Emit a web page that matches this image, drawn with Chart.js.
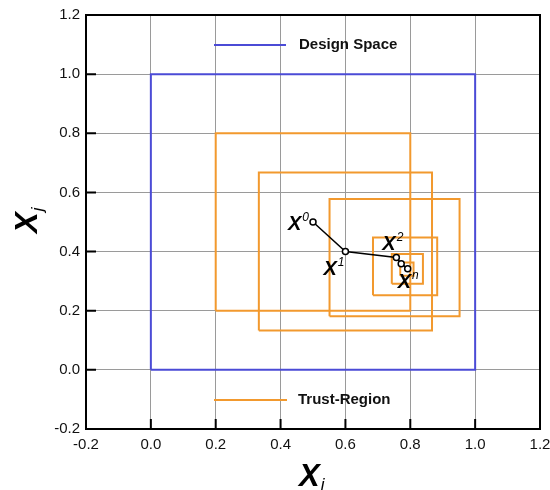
<!DOCTYPE html>
<html>
<head>
<meta charset="utf-8">
<script src="https://cdn.jsdelivr.net/npm/chart.js@4.4.1/dist/chart.umd.min.js"></script>
<style>
  body { margin: 0; background: #fff; }
</style>
</head>
<body>
<canvas id="grafico" width="550" height="490"></canvas>
<script>
// espacio de diseño (cuadro azul)
const designX = [0, 1, 1, 0, 0];
const designY = [0, 0, 1, 1, 0];

// regiones de confianza (cuadros naranjas)
const trustLeft   = [0.2, 0.333, 0.551, 0.685, 0.743, 0.769];
const trustRight  = [0.8, 0.867, 0.952, 0.883, 0.839, 0.810];
const trustBottom = [0.2, 0.133, 0.181, 0.252, 0.291, 0.318];
const trustTop    = [0.8, 0.667, 0.578, 0.448, 0.392, 0.363];

// camino de iteraciones
const pathX = [0.5, 0.6, 0.757, 0.772, 0.792];
const pathY = [0.5, 0.4, 0.380, 0.359, 0.342];
const pathSup = ['0', '1', '2', '', 'n'];

const tickValues = [-0.2, 0, 0.2, 0.4, 0.6, 0.8, 1.0, 1.2];

const AZUL = '#4b4bd6';
const NARANJA = '#f2992e';
const FUENTE = '"Liberation Sans", Arial, sans-serif';

// desplazamiento en pixeles de cada etiqueta X^k respecto a su punto
const offsetsEtiqueta = [[-25, 8], [-22, 23], [-14, -7], [0, 0], [-10, 19]];

const datasets = [];

datasets.push({
  label: 'camino',
  data: pathX.map((x, i) => ({ x: x, y: pathY[i] })),
  borderColor: '#000',
  borderWidth: 1.5,
  pointRadius: 3,
  pointBackgroundColor: '#fff',
  pointBorderColor: '#000',
  pointBorderWidth: 1.5
});

for (let i = 0; i < trustLeft.length; i++) {
  const l = trustLeft[i], r = trustRight[i], b = trustBottom[i], t = trustTop[i];
  datasets.push({
    label: 'Trust-Region ' + i,
    data: [{x: l, y: b}, {x: r, y: b}, {x: r, y: t}, {x: l, y: t}, {x: l, y: b}],
    borderColor: NARANJA,
    borderWidth: 2,
    pointRadius: 0
  });
}

datasets.push({
  label: 'Design Space',
  data: designX.map((x, i) => ({ x: x, y: designY[i] })),
  borderColor: AZUL,
  borderWidth: 2,
  pointRadius: 0
});

// texto X con superindice / subindice
function textoIndice(ctx, x, y, tamBase, idx, tamIdx, dyIdx) {
  ctx.font = 'bold italic ' + tamBase + 'px ' + FUENTE;
  ctx.fillText('X', x, y);
  const w = ctx.measureText('X').width;
  if (idx) {
    ctx.font = 'italic ' + tamIdx + 'px ' + FUENTE;
    ctx.fillText(idx, x + w + 1, y + dyIdx);
  }
}

const decoracion = {
  id: 'decoracion',
  afterDatasetsDraw(chart) {
    const ctx = chart.ctx;
    const area = chart.chartArea;
    const sx = chart.scales.x, sy = chart.scales.y;
    ctx.save();

    // marcas hacia adentro
    ctx.strokeStyle = '#000';
    ctx.lineWidth = 2;
    ctx.beginPath();
    tickValues.forEach(v => {
      const py = sy.getPixelForValue(v);
      ctx.moveTo(area.left, py); ctx.lineTo(area.left + 10, py);
      const px = sx.getPixelForValue(v);
      ctx.moveTo(px, area.bottom); ctx.lineTo(px, area.bottom - 10);
    });
    ctx.stroke();

    // marco
    ctx.strokeRect(area.left, area.top, area.right - area.left, area.bottom - area.top);

    // leyendas dentro del grafico
    ctx.lineWidth = 2;
    ctx.strokeStyle = AZUL;
    ctx.beginPath(); ctx.moveTo(214, 45); ctx.lineTo(286, 45); ctx.stroke();
    ctx.strokeStyle = NARANJA;
    ctx.beginPath(); ctx.moveTo(214, 400); ctx.lineTo(287, 400); ctx.stroke();
    ctx.fillStyle = '#111';
    ctx.font = 'bold 15px ' + FUENTE;
    ctx.textBaseline = 'middle';
    ctx.fillText('Design Space', 299, 45);
    ctx.fillText('Trust-Region', 298, 400);

    // etiquetas de los puntos
    ctx.textBaseline = 'alphabetic';
    ctx.fillStyle = '#000';
    pathX.forEach((x, i) => {
      if (!pathSup[i]) return;
      const px = sx.getPixelForValue(x) + offsetsEtiqueta[i][0];
      const py = sy.getPixelForValue(pathY[i]) + offsetsEtiqueta[i][1];
      textoIndice(ctx, px, py, 20, pathSup[i], 12, -9);
    });

    // titulos de ejes
    textoIndice(ctx, 299, 486, 31, 'i', 17, 4);
    ctx.translate(37, 233);
    ctx.rotate(-Math.PI / 2);
    textoIndice(ctx, 0, 0, 31, 'j', 17, 6);

    ctx.restore();
  }
};

new Chart(document.getElementById('grafico'), {
  type: 'line',
  data: { datasets: datasets },
  options: {
    responsive: false,
    animation: false,
    layout: { padding: { top: 15, right: 10, left: 0, bottom: 0 } },
    scales: {
      x: {
        type: 'linear',
        min: -0.2, max: 1.2,
        afterFit: s => { s.height = 61; s.paddingLeft = 0; s.paddingRight = 0; },
        afterBuildTicks: s => { s.ticks = tickValues.map(v => ({ value: v })); },
        grid: { color: '#9a9a9a', lineWidth: 1, drawTicks: false },
        border: { display: false },
        ticks: {
          padding: 7,
          color: '#111',
          font: { family: FUENTE, size: 15 },
          callback: v => v.toFixed(1)
        }
      },
      y: {
        type: 'linear',
        min: -0.2, max: 1.2,
        afterFit: s => { s.width = 86; s.paddingTop = 0; s.paddingBottom = 0; },
        afterBuildTicks: s => { s.ticks = tickValues.map(v => ({ value: v })); },
        grid: { color: '#9a9a9a', lineWidth: 1, drawTicks: false },
        border: { display: false },
        ticks: {
          padding: 6,
          color: '#111',
          font: { family: FUENTE, size: 15 },
          callback: v => v.toFixed(1)
        }
      }
    },
    plugins: {
      legend: { display: false },
      tooltip: { enabled: false }
    }
  },
  plugins: [decoracion]
});
</script>
</body>
</html>
